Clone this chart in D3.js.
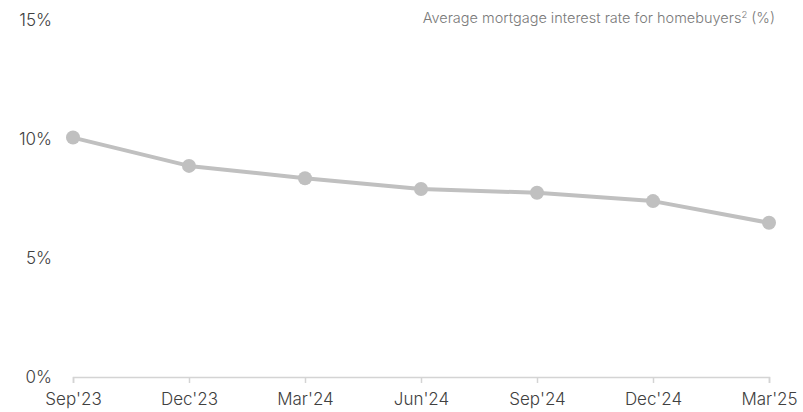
<!DOCTYPE html>
<html>
<head>
<meta charset="utf-8">
<script src="https://cdn.jsdelivr.net/npm/d3@7"></script>
<style>
  body { margin: 0; background: #fff; }
  text { font-family: Inter, Roboto, "Open Sans", sans-serif; }
</style>
</head>
<body>
<div id="chart"></div>
<script>
// data
const periods = ["Sep'23", "Dec'23", "Mar'24", "Jun'24", "Sep'24", "Dec'24", "Mar'25"];
const rates = [10.06, 8.87, 8.35, 7.90, 7.74, 7.39, 6.48];
const yTicks = [0, 5, 10, 15];
const titleText = "Average mortgage interest rate for homebuyers";

const width = 803, height = 412;
const margin = { top: 20, right: 34, bottom: 35, left: 73 };

const svg = d3.select("#chart").append("svg")
    .attr("width", width)
    .attr("height", height);

let x = d3.scalePoint()
    .domain(periods)
    .range([margin.left, width - margin.right]);

let y = d3.scaleLinear()
    .domain([0, 15])
    .range([height - margin.bottom, margin.top]);

// y labels (no axis line)
svg.append("g")
    .selectAll("text")
    .data(yTicks)
    .enter().append("text")
    .attr("x", 52)
    .attr("y", d => y(d))
    .attr("dy", "0.35em")
    .attr("text-anchor", "end")
    .attr("font-size", 17)
    .attr("font-weight", 300)
    .attr("fill", "#404040")
    .text(d => d + "%");

// x axis
let xAxis = d3.axisBottom(x).tickSize(6).tickPadding(10);
let gx = svg.append("g")
    .attr("transform", `translate(0, ${y(0)})`)
    .call(xAxis);
gx.select(".domain").attr("stroke", "#d4d4d4").attr("stroke-width", 1.5);
gx.selectAll(".tick line").attr("stroke", "#d4d4d4").attr("stroke-width", 1.5);
gx.selectAll(".tick text")
    .attr("font-size", 17)
    .attr("font-weight", 300)
    .attr("fill", "#404040")
    .attr("font-family", "Inter, Roboto, sans-serif");

// line
let line = d3.line()
    .x((d, i) => x(periods[i]))
    .y(d => y(d));

svg.append("path")
    .datum(rates)
    .attr("fill", "none")
    .attr("stroke", "#c0c0c0")
    .attr("stroke-width", 4)
    .attr("stroke-linejoin", "round")
    .attr("d", line);

svg.append("g")
    .selectAll("circle")
    .data(rates)
    .enter().append("circle")
    .attr("cx", (d, i) => x(periods[i]))
    .attr("cy", d => y(d))
    .attr("r", 7)
    .attr("fill", "#c0c0c0");

// title
let title = svg.append("text")
    .attr("x", 775)
    .attr("y", 23)
    .attr("text-anchor", "end")
    .attr("font-size", 14.5)
    .attr("font-weight", 300)
    .attr("fill", "#7a7a7a");
title.append("tspan").text(titleText);
title.append("tspan").attr("font-size", 9.5).attr("dy", -5).text("2");
title.append("tspan").attr("dy", 5).text(" (%)");
</script>
</body>
</html>
